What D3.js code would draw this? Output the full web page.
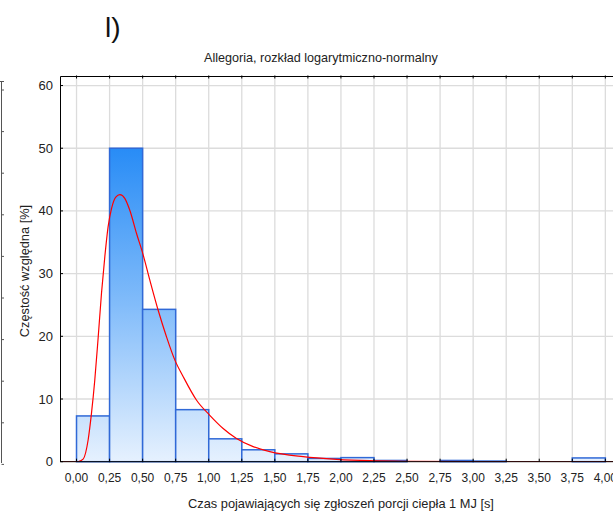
<!DOCTYPE html>
<html><head><meta charset="utf-8">
<script src="https://cdn.jsdelivr.net/npm/d3@7/dist/d3.min.js"></script>
<style>body{margin:0;background:#fff}svg{display:block;font-family:"Liberation Sans",Arial,sans-serif}</style>
</head><body>
<script>
const binStarts = [0,0.25,0.5,0.75,1.0,1.25,1.5,1.75,2.0,2.25,2.5,2.75,3.0,3.25,3.5,3.75];
const binWidth = 0.25;
const binValues = [7.3,50.0,24.3,8.3,3.65,1.9,1.25,0.52,0.65,0.2,0,0.2,0.1,0,0,0.6];
const curveX = [-0.125,0.0,0.015,0.05,0.088,0.113,0.138,0.164,0.189,0.214,0.239,0.265,0.297,0.328,0.365,0.403,0.454,0.504,0.554,0.617,0.681,0.744,0.806,0.908,1.008,1.109,1.21,1.336,1.462,1.714,1.967,2.22,2.5,3.0,3.5,4.0,4.25];
const curveY = [0,0,0.03,0.4,3.5,7.7,13.0,19.9,26.9,32.7,37.5,40.4,42.2,42.6,42.0,40.1,36.4,33.0,29.0,24.2,19.9,16.2,13.6,9.8,7.4,5.3,3.7,2.4,1.6,0.8,0.38,0.16,0.07,0.02,0.01,0,0];
const xTicks = [0,0.25,0.5,0.75,1.0,1.25,1.5,1.75,2.0,2.25,2.5,2.75,3.0,3.25,3.5,3.75,4.0];
const yTicks = [0,10,20,30,40,50,60];
const panelLabel = "l)";
const title = "Allegoria, rozkład logarytmiczno-normalny";
const xTitle = "Czas pojawiających się zgłoszeń porcji ciepła 1 MJ [s]";
const yTitle = "Częstość względna [%]";

const W = 613, H = 512;
const svg = d3.select("body").append("svg").attr("width", W).attr("height", H);
const x = d3.scaleLinear().domain([-0.125, 4.25]).range([60, 638.4]);
const y = d3.scaleLinear().domain([0, 61.6]).range([461.7, 75.5]);
const fmt = d => d.toFixed(2).replace(".", ",");

// partial neighbouring chart on the left edge
const lp = svg.append("g").attr("stroke", "#555").attr("stroke-width", 1);
lp.append("line").attr("x1", 1.5).attr("x2", 1.5).attr("y1", 81).attr("y2", 463);
lp.append("line").attr("x1", 0).attr("x2", 4).attr("y1", 81.5).attr("y2", 81.5);
d3.range(10).forEach(i => lp.append("line").attr("x1", 1.5).attr("x2", 4).attr("y1", 90 + i * 41.6).attr("y2", 90 + i * 41.6));

// gradient
const defs = svg.append("defs");
const grad = defs.append("linearGradient").attr("id", "bg").attr("gradientUnits", "userSpaceOnUse")
  .attr("x1", 0).attr("x2", 0).attr("y1", y(50)).attr("y2", y(0));
grad.append("stop").attr("offset", 0).attr("stop-color", "rgb(40,140,246)");
grad.append("stop").attr("offset", 0.5).attr("stop-color", "rgb(130,188,250)");
grad.append("stop").attr("offset", 1).attr("stop-color", "rgb(230,241,254)");
defs.append("clipPath").attr("id", "clip").append("rect")
  .attr("x", x(-0.125)).attr("y", y(61.6)).attr("width", x(4.25) - x(-0.125)).attr("height", y(0) - y(61.6));

// grid
const grid = svg.append("g").attr("stroke", "#dcdcdc").attr("stroke-width", 1.3);
xTicks.forEach(t => grid.append("line").attr("x1", x(t)).attr("x2", x(t)).attr("y1", y(61.6)).attr("y2", y(0)));
yTicks.filter(t => t > 0).forEach(t => grid.append("line").attr("x1", x(-0.125)).attr("x2", x(4.25)).attr("y1", y(t)).attr("y2", y(t)));

// bars
svg.append("g").selectAll("rect").data(binStarts.map((s, i) => ({s, v: binValues[i]})).filter(d => d.v > 0))
  .join("rect")
  .attr("x", d => x(d.s)).attr("width", d => x(d.s + binWidth) - x(d.s))
  .attr("y", d => y(d.v)).attr("height", d => y(0) - y(d.v))
  .attr("fill", "url(#bg)").attr("stroke", "rgb(48,105,215)").attr("stroke-width", 1.5);

// curve
const line = d3.line().x(d => x(d[0])).y(d => y(d[1])).curve(d3.curveMonotoneX);
svg.append("path").attr("clip-path", "url(#clip)").datum(curveX.map((v, i) => [v, curveY[i]]))
  .attr("d", line).attr("fill", "none").attr("stroke", "#ff0000").attr("stroke-width", 1.2);

// frame
const fr = svg.append("g").attr("stroke", "#000").attr("stroke-width", 1).attr("fill", "none");
fr.append("path").attr("d", `M${x(4.25)},${Math.round(y(61.6)) + 0.5}H${x(-0.125) + 0.5}V${y(0)}H${x(4.25)}`);
xTicks.forEach(t => fr.append("line").attr("x1", x(t)).attr("x2", x(t)).attr("y1", y(61.6)).attr("y2", y(61.6) + 3));
xTicks.forEach(t => fr.append("line").attr("x1", x(t)).attr("x2", x(t)).attr("y1", y(0)).attr("y2", y(0) - 3));
yTicks.forEach(t => fr.append("line").attr("x1", x(-0.125)).attr("x2", x(-0.125) + 3).attr("y1", y(t)).attr("y2", y(t)));

// tick labels
svg.append("g").selectAll("text").data(xTicks).join("text")
  .attr("x", d => x(d)).attr("y", 482).attr("text-anchor", "middle")
  .attr("font-size", 12).attr("fill", "#222").text(fmt);
svg.append("g").selectAll("text").data(yTicks).join("text")
  .attr("x", 53).attr("y", d => y(d) + 4.5).attr("text-anchor", "end")
  .attr("font-size", 13).attr("fill", "#222").text(d => d);

// titles
svg.append("text").attr("x", 105).attr("y", 37).attr("font-size", 28).attr("fill", "#111").text(panelLabel);
svg.append("text").attr("x", 321).attr("y", 62).attr("text-anchor", "middle").attr("font-size", 12.6).attr("fill", "#222").text(title);
svg.append("text").attr("x", 341).attr("y", 508).attr("text-anchor", "middle").attr("font-size", 12.8).attr("fill", "#222").text(xTitle);
svg.append("text").attr("transform", "translate(29,271) rotate(-90)").attr("text-anchor", "middle").attr("font-size", 12.8).attr("fill", "#222").text(yTitle);
</script>
</body></html>
